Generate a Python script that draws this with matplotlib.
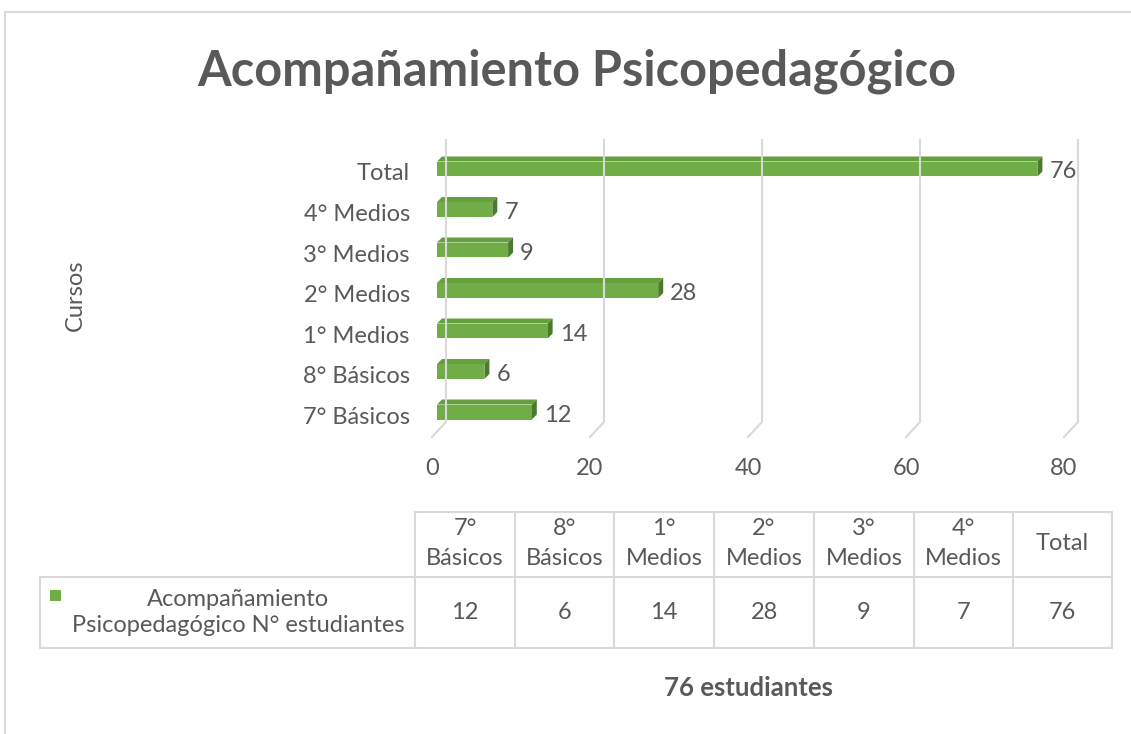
import matplotlib.pyplot as plt
from matplotlib.patches import Polygon, Rectangle
from matplotlib.lines import Line2D
from matplotlib.transforms import IdentityTransform

# data
cursos = ["7° Básicos", "8° Básicos", "1° Medios", "2° Medios", "3° Medios", "4° Medios", "Total"]
estudiantes = [12, 6, 14, 28, 9, 7, 76]
x_ticks = [0, 20, 40, 60, 80]
serie = "Acompañamiento\nPsicopedagógico N° estudiantes"
titulo = "Acompañamiento Psicopedagógico"
pie = "76 estudiantes"

W, H = 1131, 734
FONT = "Lato"
TXT = "#595959"
GRID = "#d9d9d9"
GREEN = "#70ad47"
GREEN_TOP = "#66a03e"
GREEN_SIDE = "#4a7a2b"
FS = 17

plt.rcParams["font.family"] = [FONT, "DejaVu Sans"]

fig = plt.figure(figsize=(W / 100, H / 100), dpi=100)
bg = fig.add_axes([0, 0, 1, 1])
bg.set_xlim(0, W)
bg.set_ylim(H, 0)
bg.axis("off")


def px(x0, y0, x1, y1):
    return [x0 / W, 1 - y1 / H, (x1 - x0) / W, (y1 - y0) / H]


# chart frame
bg.plot([5, W], [12, 12], color=GRID, lw=1.5)
bg.plot([5, 5], [12, H], color=GRID, lw=1.5)

bg.text(577, 71, titulo, ha="center", va="center", fontsize=35,
        fontweight="bold", color=TXT)

# bar chart area (front plane)
ax = fig.add_axes(px(432, 140, 1064, 437))
ax.set_xlim(0, 80)
ax.set_ylim(-0.543, 6.79)
ax.patch.set_alpha(0)
for s in ax.spines.values():
    s.set_visible(False)
ax.set_yticks(range(len(cursos)), cursos)
ax.set_xticks(x_ticks, [str(t) for t in x_ticks])
ax.tick_params(axis="y", length=0, pad=16, labelsize=FS, labelcolor=TXT)
ax.tick_params(axis="x", length=0, pad=15, labelsize=FS, labelcolor=TXT)

ident = IdentityTransform()
top_px = H - 140

# 3d-ish gridlines: floor diagonal + back wall vertical
for t in x_ticks:
    fx, fy = ax.transData.transform((t, ax.get_ylim()[0]))
    ax.add_line(Line2D([fx, fx + 14, fx + 14], [fy, fy + 15, top_px],
                       color=GRID, lw=1.5, transform=ident, clip_on=False))

h = 0.37
for i, v in enumerate(estudiantes):
    x0, y0 = ax.transData.transform((0, i - h / 2))
    x1, y1 = ax.transData.transform((v, i + h / 2))
    x0, x1 = x0 + 5, x1 + 5
    y0, y1 = y0 + 3, y1 + 3
    d = 5
    ax.add_patch(Polygon([(x0, y1), (x1, y1), (x1 + d, y1 + d), (x0 + d, y1 + d)],
                         closed=True, fc=GREEN_TOP, ec="none", transform=ident, clip_on=False))
    ax.add_patch(Polygon([(x1, y0), (x1 + d, y0 + d), (x1 + d, y1 + d), (x1, y1)],
                         closed=True, fc=GREEN_SIDE, ec="none", transform=ident, clip_on=False))
    ax.add_patch(Polygon([(x0, y0), (x1, y0), (x1, y1), (x0, y1)],
                         closed=True, fc=GREEN, ec="none", transform=ident, clip_on=False))
    ax.annotate(str(v), (v, i), xytext=(17, 0), textcoords="offset pixels",
                ha="left", va="center", fontsize=FS, color=TXT, annotation_clip=False)

bg.text(75, 295, "Cursos", rotation=90, ha="center", va="center", fontsize=FS, color=TXT)

# data table
cols = [415, 515, 614, 714, 814, 914, 1013, 1112]
r0, r1, r2 = 512, 577, 648
lw = 1.5
for c in cols:
    bg.plot([c, c], [r0, r2], color=GRID, lw=lw)
bg.plot([cols[0], cols[-1]], [r0, r0], color=GRID, lw=lw)
bg.plot([40, cols[-1]], [r1, r1], color=GRID, lw=lw)
bg.plot([40, cols[-1]], [r2, r2], color=GRID, lw=lw)
bg.plot([40, 40], [r1, r2], color=GRID, lw=lw)

for j, (name, v) in enumerate(zip(cursos, estudiantes)):
    cx = (cols[j] + cols[j + 1]) / 2
    bg.text(cx, (r0 + r1) / 2 - 1, name.replace(" ", "\n"), ha="center", va="center",
            fontsize=FS, color=TXT, linespacing=1.55)
    bg.text(cx, (r1 + r2) / 2, str(v), ha="center", va="center", fontsize=FS, color=TXT)

bg.add_patch(Rectangle((50, 590), 11, 11, fc=GREEN, ec="none"))
bg.text(238, (r1 + r2) / 2, serie, ha="center", va="center", fontsize=FS,
        color=TXT, linespacing=1.35)

bg.text(748, 688, pie, ha="center", va="center", fontsize=18.5, fontweight="bold", color=TXT)

fig.savefig("out.png", dpi=100)
